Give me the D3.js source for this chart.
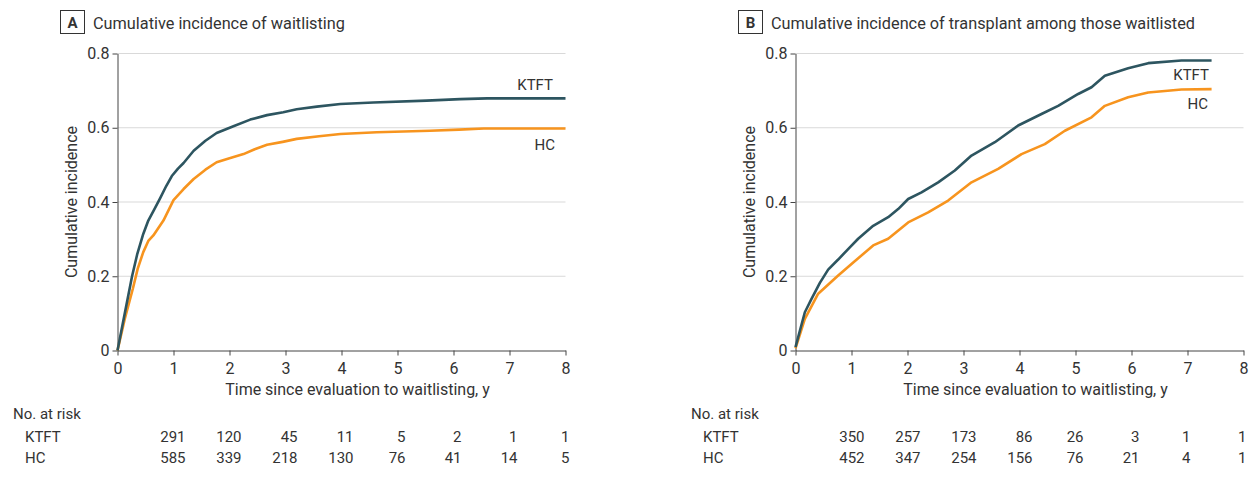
<!DOCTYPE html>
<html>
<head>
<meta charset="utf-8">
<script src="https://cdn.jsdelivr.net/npm/d3@7"></script>
<style>
  html, body { margin: 0; padding: 0; background: #fff; }
  svg { display: block; }
  text { font-family: Roboto, "Noto Sans", sans-serif; fill: #333; }
</style>
</head>
<body>
<script>
// ---------- data ----------
const xTicks = [0, 1, 2, 3, 4, 5, 6, 7, 8];
const yTicks = [0, 0.2, 0.4, 0.6, 0.8];
const yTickLabels = ["0", "0.2", "0.4", "0.6", "0.8"];
const groups = ["KTFT", "HC"];
const riskTimes = [1, 2, 3, 4, 5, 6, 7, 8];

const titleA = "Cumulative incidence of waitlisting";
const titleB = "Cumulative incidence of transplant among those waitlisted";
const xTitle = "Time since evaluation to waitlisting, y";
const yTitle = "Cumulative incidence";

// Panel A: cumulative incidence of waitlisting [time (y), incidence]
const aKTFT = [[0,0],[0.13,0.10],[0.26,0.20],[0.35,0.258],[0.46,0.314],[0.55,0.35],[0.65,0.378],[0.76,0.41],[0.87,0.443],[0.97,0.47],[1.08,0.49],[1.18,0.505],[1.36,0.538],[1.57,0.565],[1.77,0.586],[2.07,0.604],[2.37,0.622],[2.67,0.634],[2.96,0.642],[3.2,0.65],[3.56,0.657],[3.98,0.664],[4.57,0.668],[5.52,0.673],[6.12,0.677],[6.6,0.679],[8.0,0.679]];
const aHC = [[0,0],[0.13,0.085],[0.275,0.167],[0.36,0.22],[0.46,0.265],[0.55,0.295],[0.64,0.31],[0.82,0.35],[1.0,0.405],[1.18,0.435],[1.36,0.462],[1.57,0.487],[1.77,0.507],[2.0,0.518],[2.25,0.529],[2.45,0.542],[2.67,0.554],[2.95,0.562],[3.2,0.57],[3.6,0.577],[3.98,0.583],[4.63,0.588],[5.58,0.592],[6.1,0.595],[6.54,0.598],[8.0,0.598]];

// Panel B: cumulative incidence of transplant among waitlisted
const bKTFT = [[0,0.009],[0.167,0.103],[0.286,0.139],[0.435,0.182],[0.583,0.218],[0.762,0.245],[0.97,0.278],[1.119,0.301],[1.387,0.336],[1.655,0.359],[1.833,0.381],[2.012,0.408],[2.25,0.426],[2.548,0.453],[2.845,0.485],[3.143,0.525],[3.56,0.561],[3.976,0.606],[4.393,0.637],[4.69,0.659],[5.048,0.691],[5.286,0.709],[5.524,0.74],[5.94,0.76],[6.298,0.774],[6.893,0.781],[7.43,0.781]];
const bHC = [[0,0.006],[0.167,0.085],[0.405,0.153],[0.762,0.202],[1.0,0.233],[1.387,0.283],[1.655,0.301],[2.012,0.345],[2.369,0.372],[2.726,0.404],[3.143,0.453],[3.619,0.489],[4.036,0.529],[4.452,0.556],[4.81,0.592],[5.286,0.628],[5.524,0.659],[5.94,0.682],[6.298,0.695],[6.893,0.703],[7.43,0.704]];

// Number at risk
const riskA_KTFT = [291, 120, 45, 11, 5, 2, 1, 1];
const riskA_HC   = [585, 339, 218, 130, 76, 41, 14, 5];
const riskB_KTFT = [350, 257, 173, 86, 26, 3, 1, 1];
const riskB_HC   = [452, 347, 254, 156, 76, 21, 4, 1];

// ---------- layout / style ----------
const W = 1254, H = 481;
const colors = { KTFT: "#2d5560", HC: "#f7941e" };

const panels = [
  { ox: 0, letter: "A", title: titleA, series: { KTFT: aKTFT, HC: aHC },
    risk: { KTFT: riskA_KTFT, HC: riskA_HC }, riskNudge: [12,12,12,12,8,8,8,4],
    labels: { KTFT: { dx: -12.5, y: 90 }, HC: { dx: -10.5, y: 150 } } },
  { ox: 678, letter: "B", title: titleB, series: { KTFT: bKTFT, HC: bHC },
    risk: { KTFT: riskB_KTFT, HC: riskB_HC }, riskNudge: [13,13,13,13,8,8,3,3],
    labels: { KTFT: { dx: -34.5, y: 80 }, HC: { dx: -35.5, y: 109 } } }
];

const svg = d3.select("body").append("svg").attr("width", W).attr("height", H);

function drawPanel(p) {
  const g = svg.append("g").attr("transform", `translate(${p.ox},0)`);
  const x = d3.scaleLinear().domain([0, 8]).range([117.5, 565.5]);
  const y = d3.scaleLinear().domain([0, 0.8]).range([350.5, 53.5]);

  // title box + title
  g.append("rect").attr("x", 60.5).attr("y", 10.5).attr("width", 24).attr("height", 23)
    .attr("fill", "none").attr("stroke", "#333").attr("stroke-width", 1);
  g.append("text").attr("x", 72.5).attr("y", 28).attr("text-anchor", "middle")
    .attr("font-size", 15).attr("font-weight", "bold").text(p.letter);
  g.append("text").attr("x", 93).attr("y", 28.5).attr("font-size", 16.3).text(p.title);

  // gridlines
  g.selectAll("line.grid").data(yTicks.filter(d => d > 0)).join("line")
    .attr("class", "grid")
    .attr("x1", x(0)).attr("x2", x(8))
    .attr("y1", d => y(d)).attr("y2", d => y(d))
    .attr("stroke", "#d9d9d9").attr("stroke-width", 1);

  // axes
  const xAxis = d3.axisBottom(x).tickValues(xTicks).tickSize(5).tickSizeOuter(0)
    .tickPadding(7).tickFormat(d3.format("d"));
  const gx = g.append("g").attr("transform", `translate(0,${y(0)})`).call(xAxis);
  const yAxis = d3.axisLeft(y).tickValues(yTicks).tickSize(5).tickSizeOuter(0)
    .tickPadding(3).tickFormat((d, i) => yTickLabels[i]);
  const gy = g.append("g").attr("transform", `translate(${x(0)},0)`).call(yAxis);
  [gx, gy].forEach(a => {
    a.attr("font-family", null).attr("font-size", null);
    a.selectAll("path, line").attr("stroke", "#444");
    a.selectAll("text").attr("font-size", 16).attr("fill", "#333");
  });

  // axis titles
  g.append("text").attr("x", (x(0) + x(8)) / 2 + 16).attr("y", 394.5)
    .attr("text-anchor", "middle").attr("font-size", 16).text(xTitle);
  g.append("text").attr("transform", `translate(77,${(y(0) + y(0.8)) / 2}) rotate(-90)`)
    .attr("text-anchor", "middle").attr("font-size", 16).text(yTitle);

  // curves
  const line = d3.line().x(d => x(d[0])).y(d => y(d[1])).curve(d3.curveLinear);
  ["HC", "KTFT"].forEach(k => {
    g.append("path").datum(p.series[k]).attr("d", line)
      .attr("fill", "none").attr("stroke", colors[k]).attr("stroke-width", 2.6)
      .attr("stroke-linejoin", "round");
  });

  // curve labels
  groups.forEach(k => {
    g.append("text").attr("x", x(8) + p.labels[k].dx).attr("y", p.labels[k].y)
      .attr("text-anchor", "end").attr("font-size", 15).text(k);
  });

  // number at risk table
  g.append("text").attr("x", 13).attr("y", 419).attr("font-size", 15).text("No. at risk");
  const rowY = { KTFT: 442, HC: 463 };
  groups.forEach(k => {
    g.append("text").attr("x", 25).attr("y", rowY[k]).attr("font-size", 15).text(k);
    g.selectAll(null).data(p.risk[k]).join("text")
      .attr("x", (d, i) => x(riskTimes[i]) + p.riskNudge[i])
      .attr("y", rowY[k]).attr("text-anchor", "end").attr("font-size", 15)
      .text(d => d);
  });
}

panels.forEach(drawPanel);
</script>
</body>
</html>
